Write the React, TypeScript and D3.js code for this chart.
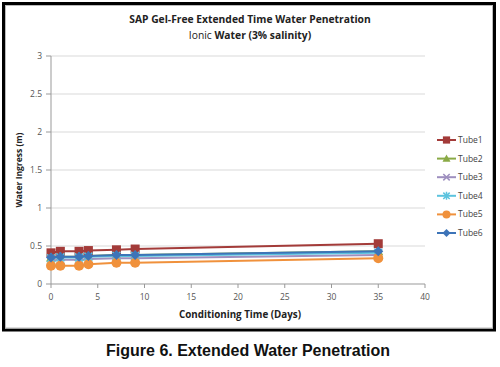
import React from "react";
import * as d3 from "d3";

const days = [0, 1, 3, 4, 7, 9, 35];
const seriesNames = ["Tube1", "Tube2", "Tube3", "Tube4", "Tube5", "Tube6"];
const tube1 = [0.41, 0.43, 0.43, 0.44, 0.45, 0.46, 0.53];
const tube2 = [0.35, 0.36, 0.36, 0.37, 0.38, 0.38, 0.43];
const tube3 = [0.31, 0.32, 0.32, 0.33, 0.34, 0.34, 0.38];
const tube4 = [0.34, 0.35, 0.35, 0.36, 0.37, 0.37, 0.41];
const tube5 = [0.24, 0.24, 0.24, 0.26, 0.28, 0.28, 0.34];
const tube6 = [0.35, 0.36, 0.36, 0.37, 0.38, 0.38, 0.43];
const seriesValues = [tube1, tube2, tube3, tube4, tube5, tube6];
const colors = ["#A33B39", "#8AAA46", "#9E8FBF", "#5CC3DE", "#F0913C", "#3D74B8"];
const symbols = ["square", "triangle", "cross", "star", "circle", "diamond"];
const yTicks = [0, 0.5, 1, 1.5, 2, 2.5, 3];
const xTicks = [0, 5, 10, 15, 20, 25, 30, 35, 40];

const font = "'Open Sans', 'Liberation Sans', sans-serif";

function Marker({ kind, x, y, color, s = 1 }: { kind: string; x: number; y: number; color: string; s?: number }) {
  const a = 4.5 * s;
  if (kind === "square") return <rect x={x - a} y={y - a} width={2 * a} height={2 * a} fill={color} />;
  if (kind === "circle") return <circle cx={x} cy={y} r={5 * s} fill={color} />;
  if (kind === "diamond")
    return <path d={`M${x},${y - 5 * s}L${x + 5 * s},${y}L${x},${y + 5 * s}L${x - 5 * s},${y}Z`} fill={color} />;
  if (kind === "triangle")
    return <path d={`M${x},${y - 5 * s}L${x + 5 * s},${y + 4 * s}L${x - 5 * s},${y + 4 * s}Z`} fill={color} />;
  const b = 4 * s;
  if (kind === "cross")
    return (
      <path d={`M${x - b},${y - b}L${x + b},${y + b}M${x - b},${y + b}L${x + b},${y - b}`} stroke={color} strokeWidth={1.5} />
    );
  return (
    <path
      d={`M${x - b},${y - b}L${x + b},${y + b}M${x - b},${y + b}L${x + b},${y - b}M${x},${y - 5 * s}L${x},${y + 5 * s}`}
      stroke={color}
      strokeWidth={1.5}
    />
  );
}

export default function App() {
  const x = d3.scaleLinear().domain([0, 40]).range([51, 425]);
  const y = d3.scaleLinear().domain([0, 3]).range([284, 56]);
  const line = d3
    .line<number>()
    .x((_, i) => x(days[i]))
    .y((d) => y(d));

  const legendY = d3.scalePoint<string>().domain(seriesNames).range([140, 233]);

  return (
    <svg width={500} height={367} style={{ position: "absolute", left: 0, top: 0, background: "#fff" }}>
      <rect x={3.5} y={3.5} width={491} height={326.5} fill="#fff" stroke="#000" strokeWidth={3} />
      <rect x={5.5} y={5.5} width={487} height={322.5} fill="none" stroke="#bbb" strokeWidth={1} />

      <text x={250} y={23} textAnchor="middle" fontFamily={font} fontSize={10.3} fontWeight="bold" fill="#222">
        SAP Gel-Free Extended Time Water Penetration
      </text>
      <text x={250} y={39} textAnchor="middle" fontFamily={font} fontSize={10.3} fill="#222">
        <tspan fontWeight="normal" fill="#222">Ionic </tspan>
        <tspan fontWeight="bold" fill="#222"> Water (3% salinity)</tspan>
      </text>

      {yTicks.map((t) => (
        <g key={t}>
          {t > 0 && <line x1={x(0)} x2={x(40)} y1={y(t)} y2={y(t)} stroke="#d9d9d9" />}
          <line x1={x(0) - 5} x2={x(0)} y1={y(t)} y2={y(t)} stroke="#999" />
          <text x={x(0) - 9} y={y(t) + 3} textAnchor="end" fontFamily={font} fontSize={8.5} fill="#555">
            {t}
          </text>
        </g>
      ))}
      <line x1={x(0)} x2={x(0)} y1={y(3)} y2={y(0)} stroke="#999" />
      <line x1={x(0)} x2={x(40)} y1={y(0)} y2={y(0)} stroke="#999" />
      {xTicks.map((t) => (
        <g key={t}>
          <line x1={x(t)} x2={x(t)} y1={y(0)} y2={y(0) + 4} stroke="#999" />
          <text x={x(t)} y={y(0) + 16} textAnchor="middle" fontFamily={font} fontSize={8.5} fill="#555">
            {t}
          </text>
        </g>
      ))}

      <text
        transform={`translate(22,${(y(0) + y(3)) / 2}) rotate(-90)`}
        textAnchor="middle"
        fontFamily={font}
        fontSize={8.5}
        fontWeight="bold"
        fill="#222"
      >
        Water Ingress (m)
      </text>
      <text x={240} y={318} textAnchor="middle" fontFamily={font} fontSize={9.8} fontWeight="bold" fill="#222">
        Conditioning Time (Days)
      </text>

      {seriesValues.map((vals, s) => (
        <g key={seriesNames[s]}>
          <path d={line(vals) || ""} fill="none" stroke={colors[s]} strokeWidth={2} />
          {vals.map((v, i) => (
            <Marker key={i} kind={symbols[s]} x={x(days[i])} y={y(v)} color={colors[s]} />
          ))}
        </g>
      ))}

      {seriesNames.map((name, s) => {
        const ly = legendY(name) as number;
        return (
          <g key={name}>
            <line x1={437} x2={456} y1={ly} y2={ly} stroke={colors[s]} strokeWidth={2} />
            <Marker kind={symbols[s]} x={446.5} y={ly} color={colors[s]} s={0.8} />
            <text x={458} y={ly + 3} fontFamily={font} fontSize={8.5} fill="#444">
              {name}
            </text>
          </g>
        );
      })}

      <text x={248} y={356} textAnchor="middle" fontFamily="'Liberation Sans', Arial, sans-serif" fontSize={16} fontWeight="bold" fill="#111">
        Figure 6. Extended Water Penetration
      </text>
    </svg>
  );
}
